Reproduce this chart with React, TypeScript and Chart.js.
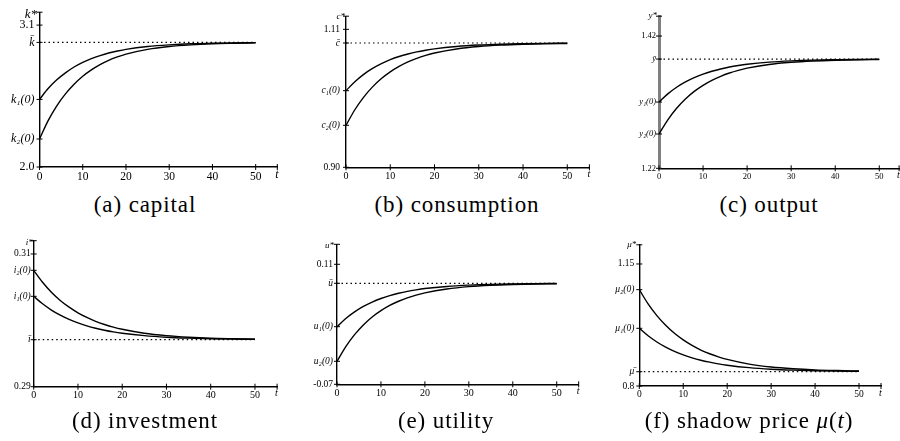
import React, { useEffect, useRef } from "react";
import { Chart, registerables } from "chart.js";

Chart.register(...registerables);

const SERIF = "'Liberation Serif', 'DejaVu Serif', serif";

// ---------- data ----------
const T = [0, 2, 4, 6, 8, 10, 12, 14, 16, 18, 20, 25, 30, 35, 40, 45, 50];
const X_TICKS = [0, 10, 20, 30, 40, 50];

const capitalBar = 2.966;
const capital1 = [2.524, 2.608, 2.676, 2.73, 2.775, 2.811, 2.84, 2.864, 2.884, 2.899, 2.912, 2.934, 2.947, 2.955, 2.959, 2.962, 2.964];
const capital2 = [2.217, 2.359, 2.474, 2.567, 2.642, 2.704, 2.753, 2.794, 2.827, 2.853, 2.875, 2.912, 2.934, 2.947, 2.955, 2.959, 2.962];
const capitalTicks = [2.0, 2.217, 2.524, 2.966, 3.1];
const capitalLabels = ["2.0", "k\u2082(0)", "k\u2081(0)", "k\u0304", "3.1"];

const consBar = 1.0892;
const cons1 = [1.0166, 1.0303, 1.0415, 1.0505, 1.0578, 1.0638, 1.0686, 1.0725, 1.0757, 1.0782, 1.0803, 1.0839, 1.0861, 1.0874, 1.0881, 1.0886, 1.0888];
const cons2 = [0.9639, 0.9876, 1.0069, 1.0224, 1.0351, 1.0453, 1.0536, 1.0604, 1.0659, 1.0703, 1.0739, 1.0801, 1.0838, 1.086, 1.0873, 1.0881, 1.0885];
const consTicks = [0.9, 0.9639, 1.0166, 1.0892, 1.11];
const consLabels = ["0.90", "c\u2082(0)", "c\u2081(0)", "c\u0304", "1.11"];

const outBar = 1.3852;
const out1 = [1.3202, 1.3325, 1.3425, 1.3506, 1.3571, 1.3624, 1.3667, 1.3702, 1.3731, 1.3754, 1.3773, 1.3805, 1.3824, 1.3836, 1.3842, 1.3846, 1.3849];
const out2 = [1.2719, 1.2933, 1.3108, 1.3248, 1.3363, 1.3455, 1.353, 1.3591, 1.3641, 1.3681, 1.3714, 1.377, 1.3803, 1.3823, 1.3835, 1.3842, 1.3846];
const outTicks = [1.22, 1.2719, 1.3202, 1.3852, 1.42];
const outLabels = ["1.22", "y\u2082(0)", "y\u2081(0)", "\u0233", "1.42"];

const invBar = 0.29708;
const inv1 = [0.30362, 0.30249, 0.30155, 0.30078, 0.30014, 0.29961, 0.29917, 0.29881, 0.29851, 0.29826, 0.29806, 0.29769, 0.29746, 0.29732, 0.29722, 0.29717, 0.29714];
const inv2 = [0.30754, 0.30573, 0.30423, 0.303, 0.30198, 0.30113, 0.30043, 0.29984, 0.29937, 0.29897, 0.29865, 0.29805, 0.29769, 0.29746, 0.29731, 0.29723, 0.29717];
const invTicks = [0.29, 0.29708, 0.30362, 0.30754, 0.31];
const invLabels = ["0.29", "\u012B", "i\u2081(0)", "i\u2082(0)", "0.31"];

const utilBar = 0.0815;
const util1 = [0.0164, 0.0287, 0.0387, 0.0468, 0.0534, 0.0587, 0.063, 0.0665, 0.0694, 0.0717, 0.0736, 0.0768, 0.0787, 0.0799, 0.0805, 0.0809, 0.0812];
const util2 = [-0.0355, -0.0134, 0.0046, 0.0191, 0.031, 0.0405, 0.0483, 0.0546, 0.0597, 0.0638, 0.0672, 0.073, 0.0765, 0.0785, 0.0797, 0.0805, 0.0809];
const utilTicks = [-0.07, -0.0355, 0.0164, 0.0815, 0.11];
const utilLabels = ["-0.07", "u\u2082(0)", "u\u2081(0)", "\u016B", "0.11"];

const muBar = 0.841;
const mu1 = [0.9655, 0.944, 0.9262, 0.9115, 0.8993, 0.8892, 0.8808, 0.8739, 0.8683, 0.8635, 0.8597, 0.8526, 0.8482, 0.8455, 0.8437, 0.8427, 0.8421];
const mu2 = [1.0763, 1.0356, 1.0019, 0.9742, 0.9511, 0.9321, 0.9163, 0.9031, 0.8925, 0.8836, 0.8763, 0.8629, 0.8546, 0.8495, 0.8462, 0.8443, 0.843];
const muTicks = [0.8, 0.841, 0.9655, 1.0763, 1.15];
const muLabels = ["0.8", "\u03BC\u0304", "\u03BC\u2081(0)", "\u03BC\u2082(0)", "1.15"];

// ---------- panel layout / styling ----------
const PANELS = [
  {
    key: "a", s1: capital1, s2: capital2, bar: capitalBar, yTicks: capitalTicks, yLabels: capitalLabels,
    yMin: 2.0, yMax: 3.2, xMax: 55, yName: "k*",
    box: { x: 0, y: 0, w: 300, h: 192 }, area: { l: 39.5, t: 12, r: 277.3, b: 167 },
    yFont: 12, xFont: 11.5, yPad: 5, nameSize: 13, nameDx: -2.5, nameDy: 5.5, tSize: 12, yAxisColor: "#000", yAxisWidth: 1.4,
  },
  {
    key: "b", s1: cons1, s2: cons2, bar: consBar, yTicks: consTicks, yLabels: consLabels,
    yMin: 0.9, yMax: 1.13, xMax: 55, yName: "c*",
    box: { x: 300, y: 0, w: 300, h: 192 }, area: { l: 346, t: 16.2, r: 589.4, b: 167.3 },
    yFont: 9.5, xFont: 10, yPad: 6, nameSize: 9, nameDx: -1, nameDy: 3, tSize: 10, yAxisColor: "#000", yAxisWidth: 1.4,
  },
  {
    key: "c", s1: out1, s2: out2, bar: outBar, yTicks: outTicks, yLabels: outLabels,
    yMin: 1.22, yMax: 1.45, xMax: 54.5, yName: "y*",
    box: { x: 600, y: 0, w: 300, h: 192 }, area: { l: 659, t: 16.2, r: 899.1, b: 168.3 },
    yFont: 8.5, xFont: 8.5, yPad: 3, nameSize: 9, nameDx: -2, nameDy: 2, tSize: 10, yAxisColor: "#808080", yAxisWidth: 3,
  },
  {
    key: "d", s1: inv1, s2: inv2, bar: invBar, yTicks: invTicks, yLabels: invLabels,
    yMin: 0.29, yMax: 0.312, xMax: 55, yName: "i*",
    box: { x: 0, y: 225, w: 300, h: 185 }, area: { l: 33.7, t: 240.7, r: 277.1, b: 386.7 },
    yFont: 9.5, xFont: 10, yPad: 3, nameSize: 9, nameDx: -1, nameDy: 4.5, tSize: 10, yAxisColor: "#000", yAxisWidth: 1.4,
  },
  {
    key: "e", s1: util1, s2: util2, bar: utilBar, yTicks: utilTicks, yLabels: utilLabels,
    yMin: -0.07, yMax: 0.14, xMax: 55, yName: "u*",
    box: { x: 300, y: 225, w: 300, h: 185 }, area: { l: 337, t: 244.3, r: 578.7, b: 384.3 },
    yFont: 9.5, xFont: 10, yPad: 4, nameSize: 9, nameDx: -3, nameDy: 4, tSize: 10, yAxisColor: "#000", yAxisWidth: 1.4,
  },
  {
    key: "f", s1: mu1, s2: mu2, bar: muBar, yTicks: muTicks, yLabels: muLabels,
    yMin: 0.8, yMax: 1.205, xMax: 55, yName: "\u03BC*",
    box: { x: 600, y: 225, w: 300, h: 185 }, area: { l: 639.3, t: 244.8, r: 881, b: 386 },
    yFont: 9.5, xFont: 9.5, yPad: 5, nameSize: 9, nameDx: -3, nameDy: 2, tSize: 10, yAxisColor: "#000", yAxisWidth: 1.4,
  },
];

const CAPTIONS = [
  { key: "a", cx: 145, base: 212, html: "(a) capital" },
  { key: "b", cx: 457, base: 212, html: "(b) consumption" },
  { key: "c", cx: 769, base: 212, html: "(c) output" },
  { key: "d", cx: 145, base: 428, html: "(d) investment" },
  { key: "e", cx: 446, base: 428, html: "(e) utility" },
  { key: "f", cx: 749, base: 428, html: "(f) shadow price <i>\u03BC</i>(<i>t</i>)" },
];

const XH = 20;

function Panel({ p }: { p: any }) {
  const ref = useRef<HTMLCanvasElement>(null);
  useEffect(() => {
    if (!ref.current) return;
    const { box, area } = p;
    const yw = area.l - box.x;
    const padT = area.t - box.y;
    const padR = box.x + box.w - area.r;
    const padB = box.y + box.h - area.b - XH;
    const isNum = (s: string) => /^-?[\d.]+$/.test(s);

    const deco = {
      id: "deco",
      afterDraw(chart: any) {
        const { ctx, chartArea, scales } = chart;
        const { left, right, top, bottom } = chartArea;
        const x = scales.x;
        const y = scales.y;
        ctx.save();
        ctx.strokeStyle = "#000";
        ctx.lineWidth = 1;
        ctx.beginPath();
        for (const t of x.ticks) {
          const px = x.getPixelForValue(t.value);
          ctx.moveTo(px, bottom - 3);
          ctx.lineTo(px, bottom + 3);
        }
        ctx.moveTo(right, bottom - 3);
        ctx.lineTo(right, bottom + 3);
        for (const t of y.ticks) {
          const py = y.getPixelForValue(t.value);
          ctx.moveTo(left - 3, py);
          ctx.lineTo(left + 3, py);
        }
        ctx.moveTo(left - 3, top);
        ctx.lineTo(left + 3, top);
        ctx.stroke();
        ctx.fillStyle = "#000";
        ctx.font = `italic ${p.nameSize}px ${SERIF}`;
        ctx.textAlign = "right";
        ctx.textBaseline = "alphabetic";
        ctx.fillText(p.yName, left + p.nameDx, top + p.nameDy);
        ctx.font = `italic ${p.tSize}px ${SERIF}`;
        ctx.textAlign = "left";
        ctx.textBaseline = "top";
        ctx.fillText("t", right - 2, bottom + 2);
        ctx.restore();
      },
    };

    const pts = (arr: number[]) => T.map((t, i) => ({ x: t, y: arr[i] }));

    const chart = new Chart(ref.current, {
      type: "line",
      data: {
        datasets: [
          {
            data: [{ x: 0, y: p.bar }, { x: 50, y: p.bar }],
            borderColor: "#000",
            borderWidth: 1.2,
            borderDash: [1.5, 3],
            pointRadius: 0,
            fill: false,
          },
          {
            data: pts(p.s1),
            borderColor: "#000",
            borderWidth: 1.4,
            pointRadius: 0,
            cubicInterpolationMode: "monotone",
            fill: false,
          },
          {
            data: pts(p.s2),
            borderColor: "#000",
            borderWidth: 1.4,
            pointRadius: 0,
            cubicInterpolationMode: "monotone",
            fill: false,
          },
        ],
      },
      options: {
        animation: false,
        responsive: false,
        maintainAspectRatio: false,
        events: [],
        layout: { autoPadding: false, padding: { left: 0, top: padT, right: padR, bottom: padB } },
        plugins: { legend: { display: false }, tooltip: { enabled: false }, title: { display: false } },
        scales: {
          x: {
            type: "linear",
            min: 0,
            max: p.xMax,
            grid: { display: false, drawTicks: false },
            border: { display: true, color: "#000", width: 1.4 },
            ticks: {
              color: "#000",
              font: { family: SERIF, size: p.xFont },
              padding: 3,
              autoSkip: false,
              maxRotation: 0,
              callback: (v: any) => String(v),
            },
            afterBuildTicks: (s: any) => {
              s.ticks = X_TICKS.map((v) => ({ value: v }));
            },
            afterFit: (s: any) => {
              s.height = XH;
            },
          },
          y: {
            type: "linear",
            min: p.yMin,
            max: p.yMax,
            grid: { display: false, drawTicks: false },
            border: { display: true, color: p.yAxisColor, width: p.yAxisWidth },
            ticks: {
              color: "#000",
              font: (ctx: any) => ({
                family: SERIF,
                size: p.yFont,
                style: isNum(p.yLabels[ctx.index] ?? "0") ? "normal" : "italic",
              }),
              padding: p.yPad,
              autoSkip: false,
              callback: (_v: any, i: number) => p.yLabels[i],
            },
            afterBuildTicks: (s: any) => {
              s.ticks = p.yTicks.map((v: number) => ({ value: v }));
            },
            afterFit: (s: any) => {
              s.width = yw;
            },
          },
        },
      } as any,
      plugins: [deco],
    });
    return () => chart.destroy();
  }, [p]);

  return (
    <canvas
      ref={ref}
      width={p.box.w}
      height={p.box.h}
      style={{ position: "absolute", left: p.box.x, top: p.box.y, width: p.box.w, height: p.box.h }}
    />
  );
}

export default function App() {
  return (
    <div
      style={{
        position: "absolute",
        left: 0,
        top: 0,
        width: 900,
        height: 441,
        background: "#fff",
        overflow: "hidden",
      }}
    >
      {PANELS.map((p) => (
        <Panel key={p.key} p={p} />
      ))}
      {CAPTIONS.map((c) => (
        <div
          key={c.key}
          style={{
            position: "absolute",
            left: c.cx,
            top: c.base - 19.3,
            transform: "translateX(-50%)",
            fontFamily: SERIF,
            fontSize: 23,
            lineHeight: "23px",
            letterSpacing: "0.9px",
            whiteSpace: "nowrap",
            color: "#000",
          }}
          dangerouslySetInnerHTML={{ __html: c.html }}
        />
      ))}
    </div>
  );
}
